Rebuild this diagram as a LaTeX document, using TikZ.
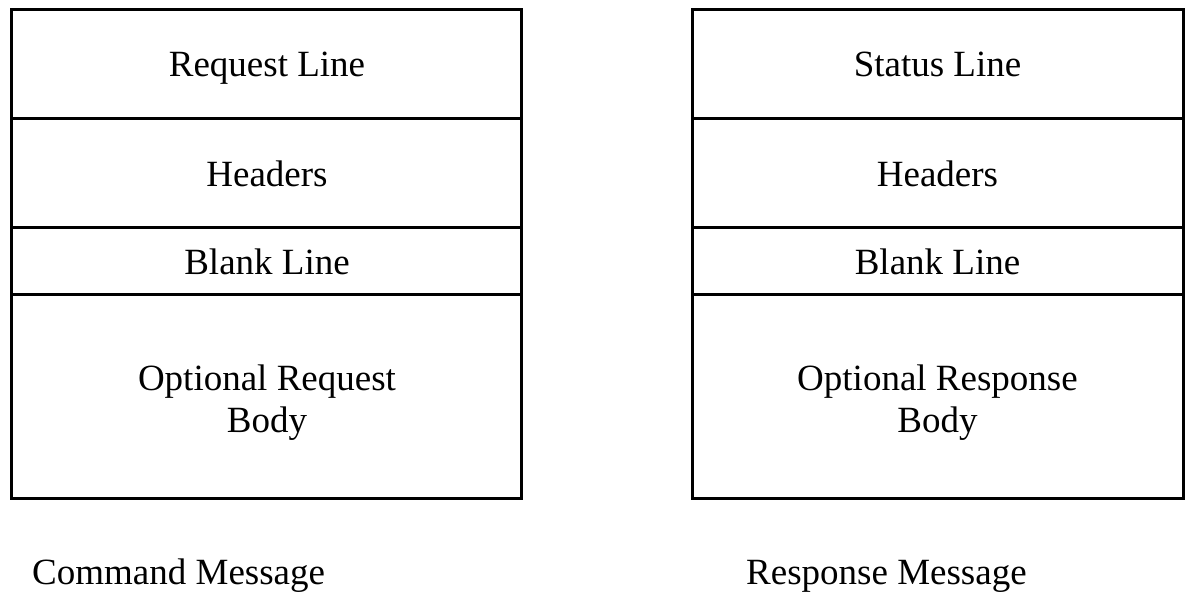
\documentclass[tikz,border=0pt]{standalone}
\usepackage{fontspec}
\setmainfont{Liberation Serif}
\begin{document}
\begin{tikzpicture}[x=1pt,y=-1pt,
  cell/.style={draw=black,line width=3pt,inner sep=0pt,outer sep=0pt,anchor=north west},
  label/.style={anchor=base,inner sep=0pt,align=center,font=\fontsize{37}{41.5}\selectfont},
  caption/.style={anchor=base west,inner sep=0pt,font=\fontsize{37}{44}\selectfont}]
\useasboundingbox (0,0) rectangle (1194,593);
% left column
\node[cell,minimum width=510pt,minimum height=109pt] (l1) at (11,10) {};
\node[cell,minimum width=510pt,minimum height=109pt] (l2) at (11,119) {};
\node[cell,minimum width=510pt,minimum height=67pt] (l3) at (11,228) {};
\node[cell,minimum width=510pt,minimum height=203pt] (l4) at (11,295) {};
\node[label] (t1) at (267,77) {Request Line};
\node[label] (t2) at (267,187) {Headers};
\node[label] (t3) at (267,275) {Blank Line};
\node[label] (t4) at (267,432) {Optional Request\\Body};
% right column
\node[cell,minimum width=491pt,minimum height=109pt] (r1) at (692,10) {};
\node[cell,minimum width=491pt,minimum height=109pt] (r2) at (692,119) {};
\node[cell,minimum width=491pt,minimum height=67pt] (r3) at (692,228) {};
\node[cell,minimum width=491pt,minimum height=203pt] (r4) at (692,295) {};
\node[label] (s1) at (937.5,77) {Status Line};
\node[label] (s2) at (937.5,187) {Headers};
\node[label] (s3) at (937.5,275) {Blank Line};
\node[label] (s4) at (937.5,432) {Optional Response\\Body};
% captions
\node[caption] (cl) at (32,584) {Command Message};
\node[caption] (cr) at (746,584) {Response Message};
\end{tikzpicture}
\end{document}
